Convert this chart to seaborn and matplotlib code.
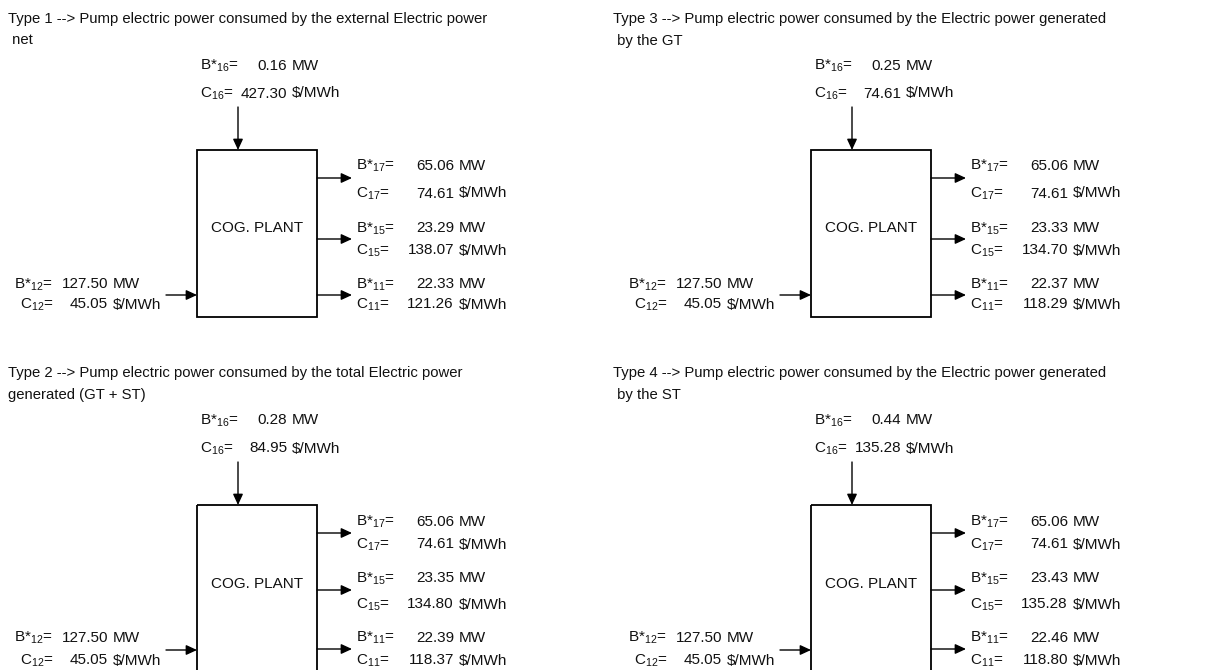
import matplotlib
matplotlib.use('Agg')
import matplotlib.pyplot as plt
import seaborn as sns
from matplotlib.patches import Rectangle

# panel order: Type 1, Type 2, Type 3, Type 4
titles = [
    'Type 1 --> Pump electric power consumed by the external Electric power\n net',
    'Type 2 --> Pump electric power consumed by the total Electric power\ngenerated (GT + ST)',
    'Type 3 --> Pump electric power consumed by the Electric power generated\n by the GT',
    'Type 4 --> Pump electric power consumed by the Electric power generated\n by the ST',
]
b16 = [0.16, 0.28, 0.25, 0.44]
c16 = [427.30, 84.95, 74.61, 135.28]
b17 = [65.06, 65.06, 65.06, 65.06]
c17 = [74.61, 74.61, 74.61, 74.61]
b15 = [23.29, 23.35, 23.33, 23.43]
c15 = [138.07, 134.80, 134.70, 135.28]
b11 = [22.33, 22.39, 22.37, 22.46]
c11 = [121.26, 118.37, 118.29, 118.80]
b12 = [127.50, 127.50, 127.50, 127.50]
c12 = [45.05, 45.05, 45.05, 45.05]
plant_label = 'COG. PLANT'

sns.set_theme(style='white')
plt.rcParams['font.family'] = ['Liberation Sans', 'DejaVu Sans']
plt.rcParams['mathtext.fontset'] = 'custom'
plt.rcParams['mathtext.rm'] = 'Liberation Sans'
plt.rcParams['mathtext.it'] = 'Liberation Sans:italic'
plt.rcParams['mathtext.default'] = 'regular'

FS = 11
FS_TITLE = 10.7
INK = '#111111'
BASE = 5.5  # from text middle to baseline, in pixels

# layout (pixel coordinates of the figure)
box_x = [197, 197, 811, 811]
box_y = [150, 505, 150, 505]
title_x = [8, 8, 613, 613]
# label rows right of the box (relative to box top): B17, C17, B15, C15, B11, C11
rows_top = [14, 42, 77, 99, 133, 153]
rows_bottom = [15, 38, 72, 98, 131, 154]
arrows_top = [28, 89, 145]
arrows_bottom = [28, 85, 144]
BOX_W, BOX_H = 120, 167


def arrow(ax, x0, y0, x1, y1):
    ax.annotate('', xy=(x1, y1), xytext=(x0, y0),
                arrowprops=dict(arrowstyle='-|>,head_length=0.65,head_width=0.3',
                                color='black', lw=1, shrinkA=0, shrinkB=0,
                                mutation_scale=10))


def put(ax, x, y, s, ha='left', fs=FS):
    ax.text(x, y + BASE, s, ha=ha, va='baseline', fontsize=fs, color=INK)


def value_row(ax, lx, ny, label, value, unit, num_right):
    put(ax, lx, ny, label)
    put(ax, num_right, ny, f'{value:.2f}', ha='right')
    put(ax, num_right + 5, ny, unit)


def draw_panel(ax, i):
    bx, by = box_x[i], box_y[i]
    top = by < 300
    rows = rows_top if top else rows_bottom
    arr = arrows_top if top else arrows_bottom

    line1, line2 = titles[i].split('\n')
    put(ax, title_x[i], by - 133, line1, fs=FS_TITLE)
    put(ax, title_x[i], by - 111, line2, fs=FS_TITLE)

    # plant box
    ax.add_patch(Rectangle((bx, by), BOX_W, BOX_H, fill=False, lw=1.3,
                           ec='black', clip_on=False))
    put(ax, bx + BOX_W / 2, by + 77, plant_label, ha='center')

    # pump input from above
    value_row(ax, bx + 3, by - 86, 'B*$_{16}$=', b16[i], 'MW', bx + 90)
    value_row(ax, bx + 3, by - 58, 'C$_{16}$=', c16[i], '$/MWh', bx + 90)
    arrow(ax, bx + 41, by - 43, bx + 41, by)

    # fuel input from the left
    ly = by + 145
    value_row(ax, bx - 183, by + rows[4], 'B*$_{12}$=', b12[i], 'MW', bx - 89)
    value_row(ax, bx - 177, by + rows[5], 'C$_{12}$=', c12[i], '$/MWh', bx - 89)
    arrow(ax, bx - 31, ly, bx, ly)

    # outputs on the right
    rx = bx + BOX_W
    labels = [('B*$_{17}$=', b17[i], 'MW'), ('C$_{17}$=', c17[i], '$/MWh'),
              ('B*$_{15}$=', b15[i], 'MW'), ('C$_{15}$=', c15[i], '$/MWh'),
              ('B*$_{11}$=', b11[i], 'MW'), ('C$_{11}$=', c11[i], '$/MWh')]
    for (lab, val, unit), dy in zip(labels, rows):
        value_row(ax, rx + 39, by + dy, lab, val, unit, rx + 137)
    for dy in arr:
        arrow(ax, rx, by + dy, rx + 35, by + dy)


fig = plt.figure(figsize=(12.05, 6.7), dpi=100)
ax = fig.add_axes([0, 0, 1, 1])
ax.set_xlim(0, 1205)
ax.set_ylim(670, 0)
ax.axis('off')

for i in range(4):
    draw_panel(ax, i)

fig.savefig('out.png', dpi=100, facecolor='white')
